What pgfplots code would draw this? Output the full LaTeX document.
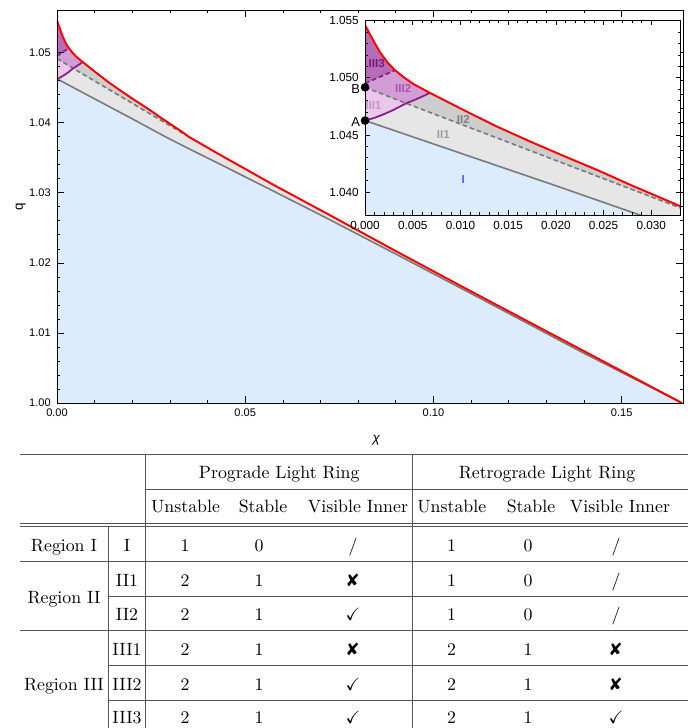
\documentclass[border=0pt]{standalone}
\usepackage{amssymb}
\usepackage{pifont}
\usepackage{fontspec}
\usepackage{pgfplots}
\pgfplotsset{compat=1.18}
\newfontfamily\plotfont{Liberation Sans}

\definecolor{regI}{HTML}{DDECFC}
\definecolor{regIIa}{HTML}{E6E6E6}
\definecolor{regIIb}{HTML}{CDCDCD}
\definecolor{regIIIa}{HTML}{E9C8EA}
\definecolor{regIIIb}{HTML}{D29DD4}
\definecolor{regIIIc}{HTML}{B46DB6}
\definecolor{purp}{HTML}{8E1B90}
\definecolor{lineg}{HTML}{7A7A7A}
\definecolor{tabline}{HTML}{555555}

% region fills and boundary curves, shared by main plot and inset
\newcommand{\regions}{%
\addplot[draw=none,fill=regI] coordinates {(0,0.99)(0,1.04626)(0.01,1.04341)(0.02,1.04056)(0.0288,1.0380)(0.035,1.0363)(0.0414,1.0346)(0.0573,1.0303)(0.0716,1.0264)(0.092,1.0207)(0.1122,1.0150)(0.14,1.0071)(0.166,1.0)(0.17,0.99)} -- cycle;
\addplot[draw=none,fill=regIIa] coordinates {(0,1.04626)(0.001,1.04650)(0.002,1.04683)(0.003,1.04720)(0.0043,1.04777)(0.035,1.0380)(0.0424,1.0357)(0.0573,1.0312)(0.0732,1.0266)(0.092,1.0211)(0.1122,1.0153)(0.14,1.0074)(0.166,1.0)(0.14,1.0071)(0.1122,1.0150)(0.092,1.0207)(0.0716,1.0264)(0.0573,1.0303)(0.0414,1.0346)(0.035,1.0363)(0.0288,1.0380)(0.02,1.04056)(0.01,1.04341)} -- cycle;
\addplot[draw=none,fill=regIIb] coordinates {(0.0043,1.04777)(0.005,1.04800)(0.006,1.04836)(0.0068,1.04868)(0.0103,1.04719)(0.0138,1.04574)(0.0173,1.04443)(0.0208,1.04317)(0.0243,1.04195)(0.0278,1.04064)(0.0331,1.03875)(0.035,1.0380)} -- cycle;
\addplot[draw=none,fill=regIIIa] coordinates {(0,1.04626)(0.001,1.04650)(0.002,1.04683)(0.003,1.04720)(0.0043,1.04777)(0,1.04917)} -- cycle;
\addplot[draw=none,fill=regIIIb] coordinates {(0,1.04917)(0.0043,1.04777)(0.005,1.04800)(0.006,1.04836)(0.0068,1.04868)(0.0051,1.04944)(0.0041,1.05002)(0.00314,1.05066)(0,1.04952)} -- cycle;
\addplot[draw=none,fill=regIIIc] coordinates {(0,1.04952)(0.00314,1.05066)(0.00234,1.05136)(0.00157,1.05223)(0.00105,1.05299)(0.00052,1.05378)(0,1.05462)} -- cycle;
% boundaries
\addplot[lineg,line width=0.9pt] coordinates {(0,1.04626)(0.01,1.04341)(0.02,1.04056)(0.0288,1.0380)(0.035,1.0363)(0.0414,1.0346)(0.0573,1.0303)(0.0716,1.0264)(0.092,1.0207)(0.1122,1.0150)(0.14,1.0071)(0.166,1.0)};
\addplot[lineg,line width=0.9pt,dash pattern=on 2.6pt off 1.6pt] coordinates {(0,1.04917)(0.0043,1.04777)(0.035,1.0380)};
\addplot[purp,line width=1pt] coordinates {(0,1.04626)(0.001,1.04650)(0.002,1.04683)(0.003,1.04720)(0.0043,1.04777)(0.005,1.04800)(0.006,1.04836)(0.0068,1.04868)};
\addplot[purp,line width=1pt,dash pattern=on 2.6pt off 1.6pt] coordinates {(0,1.04952)(0.00314,1.05066)};
\addplot[red,line width=1.1pt] coordinates {(0,1.05462)(0.00052,1.05378)(0.00105,1.05299)(0.00157,1.05223)(0.00234,1.05136)(0.00314,1.05066)(0.0041,1.05002)(0.0051,1.04944)(0.0068,1.04868)(0.0103,1.04719)(0.0138,1.04574)(0.0173,1.04443)(0.0208,1.04317)(0.0243,1.04195)(0.0278,1.04064)(0.0331,1.03875)(0.035,1.0380)(0.0424,1.0357)(0.0573,1.0312)(0.0732,1.0266)(0.092,1.0211)(0.1122,1.0153)(0.14,1.0074)(0.166,1.0)};
}

\pgfplotsset{
  mframe/.style={scale only axis, axis on top, scaled ticks=false,
    tick align=inside, tick style={black,line width=0.4pt},
    axis line style={line width=0.5pt},
    /pgf/number format/assume math mode=true,
    /pgf/number format/fixed,
    /pgf/number format/fixed zerofill},
}

\begin{document}
\begin{tikzpicture}
\useasboundingbox (0,0) rectangle (386.5pt,-409pt);

% main plot
\begin{axis}[mframe, at={(32.02pt,-226.4pt)}, width=351.7pt, height=220.8pt,
  tick label style={font=\plotfont\fontsize{6.2}{7}\selectfont},
  xmin=0, xmax=0.1663, ymin=1.0, ymax=1.0561,
  xtick={0,0.05,0.1,0.15}, minor x tick num=4,
  ytick={1,1.01,1.02,1.03,1.04,1.05}, minor y tick num=4,
  major tick length=3.7pt, minor tick length=1.9pt,
  /pgf/number format/precision=2,
  xlabel={χ}, ylabel={q},
  xlabel style={font=\plotfont\itshape\fontsize{7.5}{8}\selectfont, at={(axis description cs:0.51,0)}, anchor=center, yshift=-20.8pt},
  ylabel style={font=\plotfont\fontsize{7.5}{8}\selectfont, at={(axis description cs:-0.058,0.5)}, anchor=center}]
\regions
\end{axis}

% inset
\begin{axis}[mframe, at={(205.1pt,-120.8pt)}, width=177.4pt, height=109.2pt,
  tick label style={font=\plotfont\fontsize{6.6}{7}\selectfont},
  axis background/.style={fill=white}, clip mode=individual,
  xmin=0, xmax=0.0331, ymin=1.038, ymax=1.055,
  xtick={0,0.005,0.01,0.015,0.02,0.025,0.03}, minor x tick num=4,
  ytick={1.04,1.045,1.05,1.055}, minor y tick num=4,
  major tick length=2.6pt, minor tick length=1.5pt,
  /pgf/number format/precision=3]
\regions
\addplot[only marks,mark=*,mark size=2.2pt,black] coordinates {(0,1.04626)(0,1.04917)};
\node[anchor=east,inner sep=0pt,xshift=-2.6pt,yshift=-1pt,font=\plotfont\fontsize{7.3}{8}\selectfont] at (axis cs:0,1.04626) {A};
\node[anchor=east,inner sep=0pt,xshift=-2.6pt,yshift=-0.9pt,font=\plotfont\fontsize{7.3}{8}\selectfont] at (axis cs:0,1.04917) {B};
\begin{scope}[font=\plotfont\bfseries\fontsize{6.5}{7}\selectfont]
\node[text=purp!85!black] at (axis cs:0.00122,1.05127) {III3};
\node[text=purp!75] at (axis cs:0.0040,1.04909) {III2};
\node[text=regIIIb!90!purp] at (axis cs:0.00087,1.04754) {III1};
\node[text=black!50] at (axis cs:0.0103,1.04638) {II2};
\node[text=black!38] at (axis cs:0.0082,1.04507) {II1};
\node[text=blue!65] at (axis cs:0.0103,1.04108) {I};
\end{scope}
\end{axis}

% table
\begin{scope}[x=0.5618pt,y=-0.5618pt]
\begin{scope}[tabline,line width=0.5pt]
\draw (20,454) -- (688,454);
\draw (145.7,489.7) -- (688,489.7);
\draw (20,523) -- (688,523);
\draw (20,526) -- (688,526);
\draw (20,561.3) -- (688,561.3);
\draw (108.3,596.3) -- (688,596.3);
\draw (20,630.3) -- (688,630.3);
\draw (108.3,665.7) -- (688,665.7);
\draw (108.3,700.3) -- (688,700.3);
\draw (145.7,454) -- (145.7,728);
\draw (412.7,454) -- (412.7,728);
\draw (108.3,526) -- (108.3,728);
\end{scope}
\node[anchor=base] at (279.2,478.7) {Prograde Light Ring};
\node[anchor=base] at (547,478.7) {Retrograde Light Ring};
\foreach \x/\t in {185.5/Unstable,263/Stable,358/Visible Inner,451.8/Unstable,531/Stable,620/Visible Inner}
  \node[anchor=base] at (\x,513) {\t};
\node[anchor=base] at (64,552) {Region I};
\node[anchor=base] at (64,603.8) {Region II};
\node[anchor=base] at (64,690.5) {Region III};
\newcommand{\no}{\ding{56}}
\foreach \y/\a/\b/\c/\d/\e/\f/\g in {552/I/1/0/\slash/1/0/\slash,
  586.5/II1/2/1/\no/1/0/\slash,
  621/II2/2/1/\checkmark/1/0/\slash,
  655.5/III1/2/1/\no/2/1/\no,
  690.5/III2/2/1/\checkmark/2/1/\no,
  724/III3/2/1/\checkmark/2/1/\checkmark}{
  \node[anchor=base] at (127,\y) {\a};
  \node[anchor=base] at (185,\y) {\b};
  \node[anchor=base] at (259,\y) {\c};
  \node[anchor=base] at (353,\y) {\d};
  \node[anchor=base] at (451.5,\y) {\e};
  \node[anchor=base] at (528,\y) {\f};
  \node[anchor=base] at (616,\y) {\g};
}
\end{scope}
\end{tikzpicture}
\end{document}
